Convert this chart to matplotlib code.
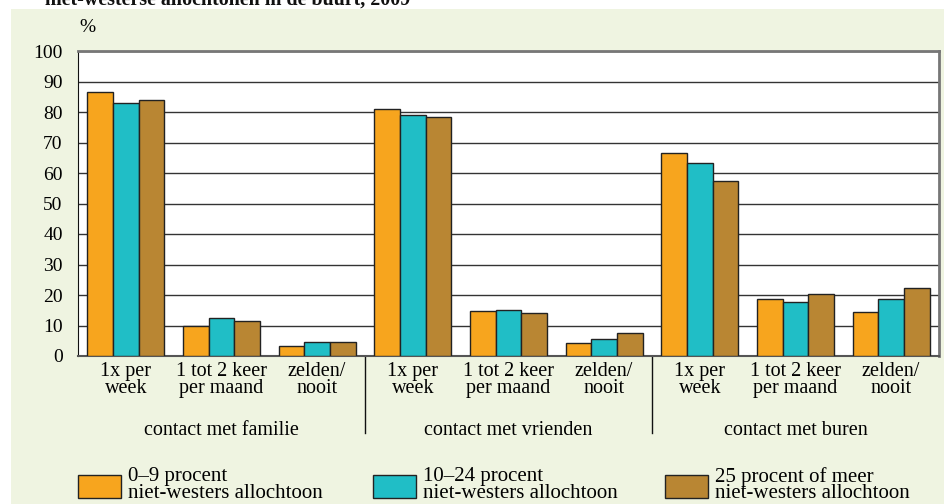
import numpy as np
import matplotlib
matplotlib.use('Agg')
import matplotlib.pyplot as plt
from matplotlib.patches import Rectangle
from matplotlib.lines import Line2D
import matplotlib.transforms as mtransforms

# data
groups = ['contact met familie', 'contact met vrienden', 'contact met buren']
freq_labels = ['1x per\nweek', '1 tot 2 keer\nper maand', 'zelden/\nnooit']
series_names = ['0\u20139 procent\nniet-westers allochtoon',
                '10\u201324 procent\nniet-westers allochtoon',
                '25 procent of meer\nniet-westers allochtoon']
low = [86.5, 9.9, 3.3, 80.9, 14.8, 4.2, 66.7, 18.6, 14.5]
mid = [83.0, 12.3, 4.5, 79.0, 15.1, 5.6, 63.3, 17.8, 18.6]
high = [83.8, 11.4, 4.6, 78.3, 14.0, 7.4, 57.4, 20.2, 22.2]
colors = ['#f7a51e', '#20bec6', '#b98633']

plt.rcParams['font.family'] = ['Liberation Serif', 'DejaVu Serif']

W, H = 945, 504
fig = plt.figure(figsize=(W / 100, H / 100), dpi=100)
fig.patch.set_facecolor('white')
fig.add_artist(Rectangle((11 / W, 0), 1, 1 - 9 / H, transform=fig.transFigure,
                         facecolor='#eff4e1', edgecolor='none', zorder=-10))

# title, cut off at the top edge as in the source
fig.text(45 / W, 1 - 5 / H, 'niet-westerse allochtonen in de buurt, 2009',
         fontsize=14.4, fontweight='bold', va='baseline', ha='left', color='#111')

ax = fig.add_axes([78 / W, (H - 356) / H, (939 - 78) / W, (356 - 51) / H])
ax.set_facecolor('white')

x = np.arange(len(low)) + 0.5
bw = 0.268
for k, (vals, c) in enumerate(zip([low, mid, high], colors)):
    ax.bar(x + (k - 1) * bw, vals, width=bw, color=c, edgecolor='#222',
           linewidth=1, zorder=3)

ax.set_xlim(0, len(low))
ax.set_ylim(0, 100)
ax.set_yticks(range(0, 101, 10))
ax.yaxis.grid(True, color='#333', linewidth=1)
ax.set_axisbelow(True)
ax.tick_params(axis='y', length=0, pad=11, labelsize=14)
ax.set_xticks(x)
ax.set_xticklabels(freq_labels * 3, fontsize=14.5, linespacing=0.92)
ax.tick_params(axis='x', length=0, pad=4)

for s in ['top', 'right']:
    ax.spines[s].set_color('#777')
    ax.spines[s].set_linewidth(2)
ax.spines['left'].set_color('#111')
ax.spines['bottom'].set_color('#555')
ax.spines['bottom'].set_linewidth(1.5)

ax.text(0.002, 1.05, '%', transform=ax.transAxes, fontsize=14, ha='left', va='bottom')

# separators between the groups and group labels
trans = mtransforms.blended_transform_factory(ax.transData, ax.transAxes)
for g in range(1, len(groups)):
    ax.add_line(Line2D([3 * g, 3 * g], [0, -0.252], transform=trans,
                       color='#111', linewidth=1, clip_on=False))
for g, name in enumerate(groups):
    ax.text(3 * g + 1.5, -0.243, name, transform=trans, ha='center', va='center',
            fontsize=14.5)

# legend
lx = [78, 373, 665]
for k in range(3):
    fig.add_artist(Rectangle((lx[k] / W, (H - 497.5) / H), 43 / W, 23 / H,
                             transform=fig.transFigure, facecolor=colors[k],
                             edgecolor='#222', linewidth=1))
    fig.text((lx[k] + 50) / W, (H - 485) / H, series_names[k], fontsize=15,
             ha='left', va='center', linespacing=0.85)

fig.savefig('out.png', dpi=100)
